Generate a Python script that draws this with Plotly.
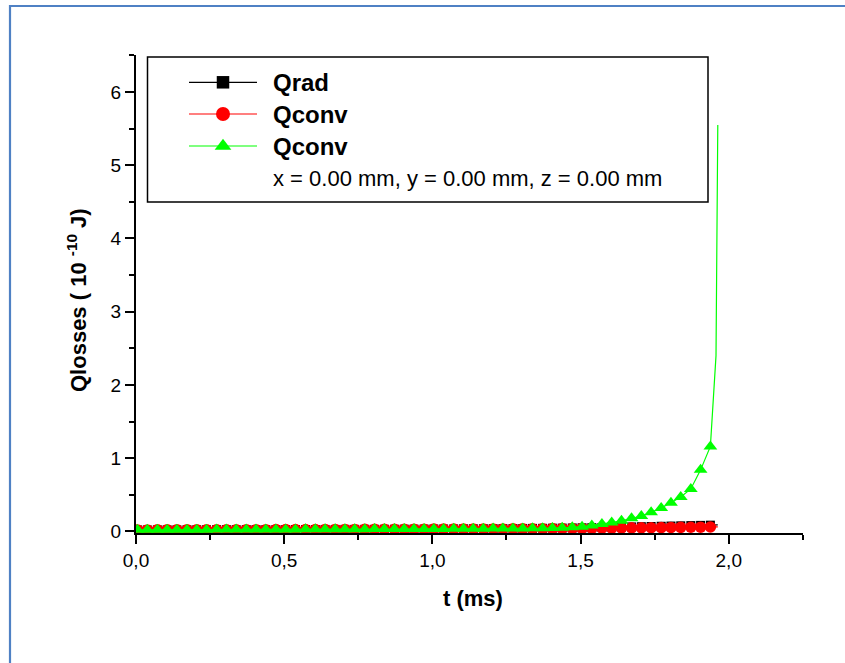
import plotly.graph_objects as go

# Time grid (ms). The first 59 samples carry a marker; the last two are line-only.
t_ms = [0.005, 0.038, 0.072, 0.105, 0.138, 0.172, 0.205, 0.238, 0.272, 0.305,
        0.338, 0.372, 0.405, 0.438, 0.472, 0.505, 0.538, 0.572, 0.605, 0.638,
        0.672, 0.705, 0.738, 0.772, 0.805, 0.838, 0.872, 0.905, 0.938, 0.972,
        1.005, 1.038, 1.072, 1.105, 1.138, 1.172, 1.205, 1.238, 1.272, 1.305,
        1.338, 1.372, 1.405, 1.438, 1.472, 1.505, 1.538, 1.572, 1.605, 1.638,
        1.672, 1.705, 1.738, 1.772, 1.805, 1.838, 1.872, 1.905, 1.938,
        1.957, 1.963]

# Losses in units of 1e-10 J
q_rad = [0.020, 0.020, 0.021, 0.021, 0.021, 0.022, 0.022, 0.022, 0.023, 0.023,
         0.023, 0.024, 0.024, 0.024, 0.025, 0.025, 0.026, 0.026, 0.026, 0.027,
         0.027, 0.028, 0.028, 0.029, 0.029, 0.030, 0.030, 0.031, 0.031, 0.032,
         0.033, 0.033, 0.034, 0.035, 0.036, 0.036, 0.037, 0.038, 0.039, 0.040,
         0.041, 0.042, 0.044, 0.045, 0.047, 0.049, 0.051, 0.053, 0.056, 0.058,
         0.061, 0.064, 0.067, 0.070, 0.073, 0.076, 0.079, 0.082, 0.085,
         0.087, 0.088]
q_conv = [0.020, 0.020, 0.021, 0.021, 0.021, 0.022, 0.022, 0.022, 0.023, 0.023,
          0.023, 0.024, 0.024, 0.024, 0.025, 0.025, 0.025, 0.026, 0.026, 0.026,
          0.027, 0.027, 0.027, 0.028, 0.028, 0.029, 0.029, 0.029, 0.030, 0.030,
          0.031, 0.031, 0.032, 0.032, 0.033, 0.033, 0.034, 0.034, 0.035, 0.035,
          0.036, 0.037, 0.038, 0.039, 0.040, 0.041, 0.042, 0.043, 0.045, 0.046,
          0.048, 0.049, 0.051, 0.052, 0.054, 0.055, 0.057, 0.058, 0.060,
          0.061, 0.062]
q_conv2 = [0.022, 0.022, 0.023, 0.023, 0.023, 0.024, 0.024, 0.024, 0.025, 0.025,
           0.025, 0.026, 0.026, 0.026, 0.027, 0.027, 0.027, 0.028, 0.028, 0.029,
           0.029, 0.029, 0.030, 0.030, 0.031, 0.031, 0.032, 0.032, 0.033, 0.033,
           0.034, 0.034, 0.035, 0.036, 0.036, 0.037, 0.038, 0.039, 0.040, 0.041,
           0.042, 0.043, 0.045, 0.048, 0.055, 0.065, 0.080, 0.100, 0.120, 0.145,
           0.180, 0.210, 0.260, 0.320, 0.390, 0.470, 0.580, 0.840, 1.160,
           2.400, 5.550]
N_MARK = 59

series_names = ["Qrad", "Qconv", "Qconv"]
coords_text = "x = 0.00 mm, y = 0.00 mm, z = 0.00 mm"
x_title = "<b>t (ms)</b>"
y_title = "<b>Qlosses ( 10 <sup>-10</sup> J)</b>"

FONT = "Liberation Sans, Arial, sans-serif"
W, H = 845, 663
ML, MR, MT, MB = 136, 42, 55, 130
PW = W - ML - MR
PH = H - MT - MB


def px(x):
    return (x - ML) / PW


def py(y):
    return (H - MB - y) / PH


styles = [
    dict(color="#000000", symbol="square", size=9, leg_size=12.5),
    dict(color="#ff0000", symbol="circle", size=11.5, leg_size=14),
    dict(color="#00ff00", symbol="triangle-up", size=12, leg_size=14.5),
]
values = [q_rad, q_conv, q_conv2]

fig = go.Figure()

for vals, st in zip(values, styles):
    fig.add_trace(go.Scatter(
        x=t_ms, y=vals, mode="lines",
        line=dict(color=st["color"], width=1.2),
        showlegend=False, hoverinfo="skip",
    ))
    fig.add_trace(go.Scatter(
        x=t_ms[:N_MARK], y=vals[:N_MARK], mode="markers",
        marker=dict(color=st["color"], symbol=st["symbol"], size=st["size"],
                    line=dict(width=0)),
        showlegend=False, hoverinfo="skip",
    ))

# Legend glyphs on a hidden overlay axis measured in pixels
rows = [82.3, 114.0, 146.0]
for row, st in zip(rows, styles):
    fig.add_trace(go.Scatter(
        x=[189, 257], y=[row, row], mode="lines", xaxis="x2", yaxis="y2",
        line=dict(color=st["color"], width=1.2),
        showlegend=False, hoverinfo="skip", cliponaxis=False,
    ))
    fig.add_trace(go.Scatter(
        x=[223], y=[row], mode="markers", xaxis="x2", yaxis="y2",
        marker=dict(color=st["color"], symbol=st["symbol"], size=st["leg_size"],
                    line=dict(width=0)),
        showlegend=False, hoverinfo="skip", cliponaxis=False,
    ))

annotations = []
for row, name in zip(rows, series_names):
    annotations.append(dict(
        xref="paper", yref="paper", x=px(271), y=py(row),
        xanchor="left", yanchor="middle", showarrow=False,
        text=f"<b>{name}</b>", font=dict(family=FONT, size=24, color="black"),
    ))
annotations.append(dict(
    xref="paper", yref="paper", x=px(271), y=py(178.3),
    xanchor="left", yanchor="middle", showarrow=False,
    text=coords_text, font=dict(family=FONT, size=22, color="black"),
))
annotations.append(dict(
    xref="paper", yref="paper", x=px(473), y=py(598),
    xanchor="center", yanchor="middle", showarrow=False,
    text=x_title, font=dict(family=FONT, size=22, color="black"),
))
annotations.append(dict(
    xref="paper", yref="paper", x=px(77), y=py(300),
    xanchor="center", yanchor="middle", showarrow=False, textangle=-90,
    text=y_title, font=dict(family=FONT, size=22, color="black"),
))

shapes = [
    # legend frame
    dict(type="rect", xref="paper", yref="paper",
         x0=px(147.5), x1=px(708), y0=py(202), y1=py(57),
         line=dict(color="black", width=1.5), fillcolor="rgba(0,0,0,0)"),
    # outer blue frame
    dict(type="rect", xref="paper", yref="paper",
         x0=px(10), x1=px(870), y0=py(690), y1=py(6),
         line=dict(color="#4f81c4", width=2.2), fillcolor="rgba(0,0,0,0)"),
]

axis_common = dict(
    showline=True, linecolor="black", linewidth=2, mirror=False,
    ticks="outside", ticklen=9, tickwidth=2, tickcolor="black",
    showgrid=False, zeroline=False,
    tickfont=dict(family=FONT, size=19, color="black"),
)

fig.update_layout(
    width=W, height=H,
    margin=dict(l=ML, r=MR, t=MT, b=MB, pad=0),
    paper_bgcolor="white", plot_bgcolor="white",
    separators=",.",
    xaxis=dict(range=[0, 2.2505], dtick=0.5, tick0=0, tickformat=".1f",
               minor=dict(dtick=0.25, tick0=0, ticks="outside", ticklen=5,
                          tickwidth=2, tickcolor="black", showgrid=False),
               **axis_common),
    yaxis=dict(range=[-0.022, 6.505], dtick=1, tick0=0, tickformat="d",
               minor=dict(dtick=0.5, tick0=0, ticks="outside", ticklen=5,
                          tickwidth=2, tickcolor="black", showgrid=False),
               **axis_common),
    xaxis2=dict(overlaying="x", range=[ML, W - MR], visible=False),
    yaxis2=dict(overlaying="y", range=[H - MB, MT], visible=False),
    annotations=annotations,
    shapes=shapes,
    showlegend=False,
)

fig.write_html("out.html", config={"displayModeBar": False})
